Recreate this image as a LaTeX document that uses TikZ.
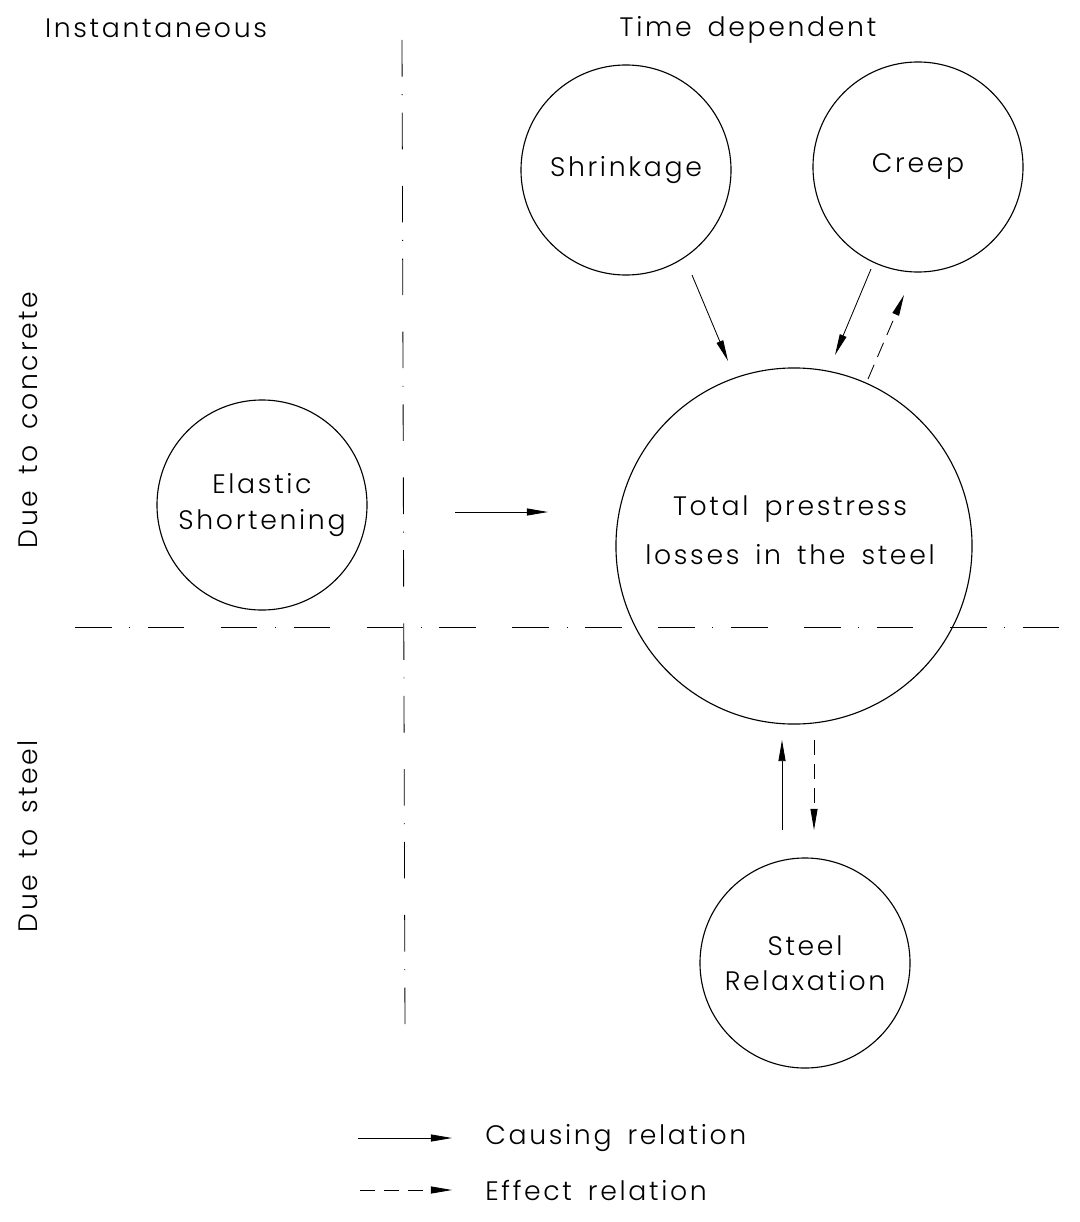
\documentclass[tikz,border=0pt]{standalone}
\usepackage{fontspec}
\setmainfont{Poppins}[UprightFont=* Light, LetterSpace=10, WordSpace=1.6]
\usepackage{tikz}
\usetikzlibrary{arrows.meta, calc}

\begin{document}
\begin{tikzpicture}[
  x=0.025cm, y=-0.025cm,
  phase/.style={circle, draw=black, thick, minimum size=5.25cm, inner sep=0pt,
                align=center, font=\fontsize{19}{25}\selectfont},
  label/.style={font=\fontsize{19}{24}\selectfont, inner sep=0pt},
  arr/.style={-{Triangle[length=15pt, width=5pt]}, semithick},
  effarr/.style={-{Triangle[length=15pt, width=5pt]}, semithick,
                 dash pattern=on 11pt off 6pt},
  divider/.style={semithick,
                  dash pattern=on 26pt off 12.5pt on 0.7pt off 12.5pt on 26pt off 26pt}
]
  \useasboundingbox (0,0) rectangle (1079,1222);

  % column and row headings
  \node[label] (inst) at (156,28)  {Instantaneous};
  \node[label] (tdep) at (748,30)  {Time dependent};
  \node[label, rotate=90] (conc) at (28,420) {Due to concrete};
  \node[label, rotate=90] (stl)  at (28,836) {Due to steel};

  % dividing lines
  \coordinate (vtop) at (402,40);
  \coordinate (vbot) at (405,1030);
  \coordinate (hl)   at (75,627);
  \coordinate (hr)   at (1079,627);
  \draw[divider] (vtop) -- (vbot);
  \draw[divider] (hl) -- (hr);

  % loss sources
  \node[phase] (shrink)  at (626,170) {Shrinkage};
  \node[phase] (creep)   at (918,167) {Creep};
  \node[phase] (elastic) at (262,505) {Elastic\\Shortening};
  \node[phase] (relax)   at (805,963) {Steel\\Relaxation};
  \node[phase, minimum size=8.9cm] (total) at (794,546) {};
  \node[label, align=center, font=\fontsize{19}{35}\selectfont]
        (totaltxt) at ($(total)+(-4,-16)$) {Total prestress\\losses in the steel};

  \draw[arr]    ($(shrink)+(66,105)$)   -- ($(total)+(-66,-185)$);
  \draw[arr]    ($(creep)+(-47,102)$)   -- ($(total)+(41,-191)$);
  \draw[effarr] ($(total)+(74,-167)$)   -- ($(creep)+(-14,128)$);
  \draw[arr]    ($(elastic)+(193,7)$)   -- ($(total)+(-246,-34)$);
  \draw[arr]    ($(relax)+(-23,-133)$)  -- ($(total)+(-12,194)$);
  \draw[effarr] ($(total)+(20,194)$)    -- ($(relax)+(9,-133)$);

  % legend
  \coordinate (ca) at (358,1138);
  \coordinate (ea) at (360,1190);
  \node[label, anchor=west] (causing) at (485,1138) {Causing relation};
  \node[label, anchor=west] (effect)  at (485,1190) {Effect relation};
  \draw[arr]    (ca) -- (causing.west -| 452,0);
  \draw[effarr] (ea) -- (effect.west -| 452,0);
\end{tikzpicture}
\end{document}
